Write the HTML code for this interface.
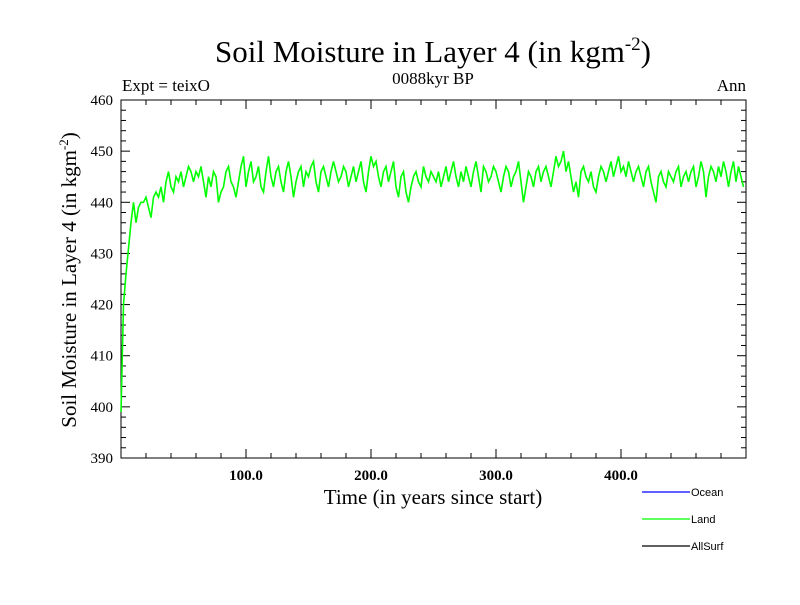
<!DOCTYPE html>
<html><head><meta charset="utf-8"><style>
body{margin:0;background:#fff;width:800px;height:600px;overflow:hidden}
svg text{font-family:"Liberation Serif",serif;fill:#000}
</style></head><body>
<svg id="chart" width="800" height="600" xmlns="http://www.w3.org/2000/svg">
<text x="433" y="62" font-size="31" text-anchor="middle">Soil Moisture in Layer 4 (in kgm<tspan font-size="19" dy="-12">-2</tspan><tspan dy="12">)</tspan></text>
<text x="122" y="91" font-size="17">Expt = teixO</text>
<text x="433" y="84" font-size="17" text-anchor="middle">0088kyr BP</text>
<text x="746" y="91" font-size="17" text-anchor="end">Ann</text>
<text x="433" y="504" font-size="21" text-anchor="middle">Time (in years since start)</text>
<text transform="translate(76,280) rotate(-90)" font-size="21" text-anchor="middle">Soil Moisture in Layer 4 (in kgm<tspan font-size="13" dy="-8">-2</tspan><tspan dy="8">)</tspan></text>
<g id="axes"></g>
<g id="series"></g>
<g>
<line x1="642" y1="492" x2="690" y2="492" stroke="#0000ff" stroke-width="1.2"/>
<text x="691" y="496" font-size="11" style="font-family:'Liberation Sans',sans-serif">Ocean</text>
<line x1="642" y1="519" x2="690" y2="519" stroke="#00ff00" stroke-width="1.2"/>
<text x="691" y="523" font-size="11" style="font-family:'Liberation Sans',sans-serif">Land</text>
<line x1="642" y1="546" x2="690" y2="546" stroke="#000" stroke-width="1.2"/>
<text x="691" y="550" font-size="11" style="font-family:'Liberation Sans',sans-serif">AllSurf</text>
</g>
</svg>
<script>
const xTicks=[100,200,300,400];
const xTickLabels=["100.0","200.0","300.0","400.0"];
const yTicks=[390,400,410,420,430,440,450,460];
const landYears=[];
const landValues=[
399,420,426,431,436,440,436,439,440,440,441,439,437,441,442,441,443,440,444,446,443,442,445,444,446,
443,445,447,446,444,446,445,447,444,441,445,443,446,445,440,442,443,446,447,444,443,441,444,447,449,
443,446,448,444,445,447,443,442,446,449,445,443,446,447,444,442,446,448,445,441,444,446,447,443,446,
445,447,448,444,442,446,447,445,443,446,448,446,444,445,447,446,443,445,447,444,446,448,444,442,446,
449,447,448,445,443,446,447,444,446,448,443,441,445,446,442,440,443,445,446,444,443,447,445,444,446,
445,444,446,443,445,447,444,446,448,445,443,446,444,447,445,443,446,448,445,442,447,446,444,445,447,
446,444,442,445,447,446,443,445,446,448,444,440,443,446,445,443,446,447,444,446,447,445,443,446,449,
447,448,450,446,448,445,442,444,441,446,447,445,444,446,443,442,445,447,446,444,446,448,445,447,449,
446,447,445,448,446,444,446,447,445,443,446,447,444,442,440,445,446,444,443,446,445,444,446,447,443,
445,446,444,446,447,443,445,448,446,441,445,447,446,444,447,445,448,446,443,446,448,444,447,445,443];
for(let i=0;i<landValues.length;i++)landYears.push(i*2);
const X0=121,X1=746,Y0=458,Y1=100,xmin=0,xmax=500,ymin=390,ymax=460;
const sx=v=>X0+(v-xmin)/(xmax-xmin)*(X1-X0);
const sy=v=>Y0-(v-ymin)/(ymax-ymin)*(Y0-Y1);
const NS="http://www.w3.org/2000/svg";
const axes=document.getElementById('axes');
function mk(t,a,p){const e=document.createElementNS(NS,t);for(const k in a)e.setAttribute(k,a[k]);p.appendChild(e);return e;}
const frame=mk('rect',{x:X0,y:Y1,width:X1-X0,height:Y0-Y1,fill:'none',stroke:'#000','stroke-width':1},axes);


for(let v=20;v<xmax;v+=20){const big=v%100===0;const L=big?9:5;
 const t1=mk('line',{x1:sx(v),x2:sx(v),y1:Y0,y2:Y0-L,stroke:'#000'},axes);
 
 
 const t2=mk('line',{x1:sx(v),x2:sx(v),y1:Y1,y2:Y1+L,stroke:'#000'},axes);
 
 }
xTicks.forEach((v,i)=>{const t=mk('text',{x:sx(v),y:Y0+22,'font-size':15,'font-weight':'bold','text-anchor':'middle'},axes);t.textContent=xTickLabels[i];
 
 });
for(let v=ymin+2;v<ymax;v+=2){const big=v%10===0;const L=big?9:5;
 const t1=mk('line',{x1:X0,x2:X0+L,y1:sy(v),y2:sy(v),stroke:'#000'},axes);
 
 
 const t2=mk('line',{x1:X1,x2:X1-L,y1:sy(v),y2:sy(v),stroke:'#000'},axes);
 
 }
yTicks.forEach(v=>{const t=mk('text',{x:X0-8,y:sy(v)+5,'font-size':15,'text-anchor':'end'},axes);t.textContent=v;
 
 });
const pts=landValues.map((v,i)=>sx(landYears[i]).toFixed(1)+','+sy(v).toFixed(1)).join(' ');
const pl=mk('polyline',{points:pts,fill:'none',stroke:'#00ff00','stroke-width':1.6},document.getElementById('series'));


</script>
</body></html>
